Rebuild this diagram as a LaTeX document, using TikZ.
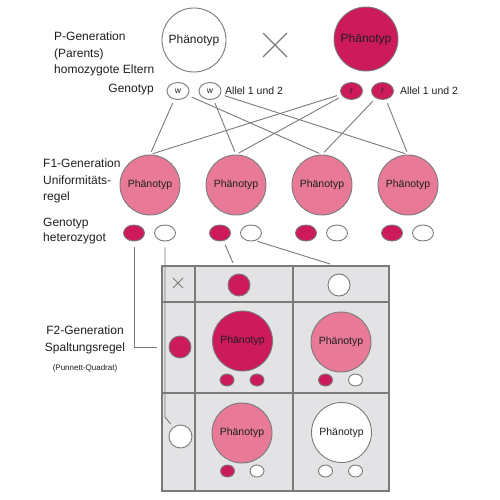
\documentclass[tikz,border=0pt]{standalone}
\usepackage{fontspec}
\setmainfont{Liberation Sans}
\usetikzlibrary{calc, shapes.geometric}

\definecolor{dunkelrot}{HTML}{CC1A5A}
\definecolor{rosa}{HTML}{E87A97}
\definecolor{zellgrau}{HTML}{E3E3E5}
\definecolor{linie}{HTML}{7A7A7A}
\definecolor{schrift}{HTML}{1E1E1E}

\tikzset{
  pheno/.style={circle, draw=linie, line width=0.9pt, minimum size=60pt,
    inner sep=0pt, text=schrift, font=\fontsize{10.5}{12}\selectfont},
  allel/.style={ellipse, draw=linie, line width=0.9pt, minimum width=21pt,
    minimum height=16pt, inner sep=0pt, text=schrift, font=\fontsize{8.5}{9}\selectfont},
  punkt/.style={circle, draw=linie, line width=0.9pt, minimum size=22pt, inner sep=0pt},
  klein/.style={ellipse, draw=linie, line width=0.9pt, minimum width=14pt,
    minimum height=12pt, inner sep=0pt},
  verb/.style={draw=linie, line width=0.9pt},
  beschr/.style={inner sep=0pt, text=schrift, font=\fontsize{12}{16.7}\selectfont}
}

\begin{document}
\begin{tikzpicture}[x=1pt, y=-1pt]
  \useasboundingbox (0,0) rectangle (500,500);

  % P-Generation: Eltern
  \node[pheno, minimum size=64pt, fill=white, font=\fontsize{12}{14}\selectfont] (pW) at (194,40) {Phänotyp};
  \node[pheno, minimum size=64pt, fill=dunkelrot, font=\fontsize{12}{14}\selectfont] (pR) at (366,39) {Phänotyp};
  % Kreuzungszeichen
  \draw[linie, line width=1.2pt] (263,33) -- (287,57) (263,57) -- (287,33);

  % Beschriftung links oben
  \node[beschr, anchor=west, align=left] (plbl) at (54,54) {P-Generation\\(Parents)\\homozygote Eltern};
  \node[beschr, anchor=east] (pgeno) at (154,90) {Genotyp};

  % Allele der Eltern
  \node[allel, minimum width=22pt, minimum height=17pt, fill=white] (w1) at (178,91) {w};
  \node[allel, minimum width=22pt, minimum height=17pt, fill=white] (w2) at (210,91) {w};
  \node[allel, minimum width=22pt, minimum height=17pt, fill=dunkelrot] (r1) at (351.5,91) {r};
  \node[allel, minimum width=22pt, minimum height=17pt, fill=dunkelrot] (r2) at (382.5,91) {r};
  \node[beschr, anchor=west, font=\fontsize{10.5}{12}\selectfont] (alw) at (225,91) {Allel 1 und 2};
  \node[beschr, anchor=west, font=\fontsize{10.5}{12}\selectfont] (alr) at (400,91) {Allel 1 und 2};

  % F1-Generation
  \node[beschr, anchor=west, align=left] (f1lbl) at (43,181) {F1-Generation\\Uniformitäts-\\regel};
  \node[beschr, anchor=west, align=left, font=\fontsize{12}{15.5}\selectfont] (f1geno) at (43,231) {Genotyp\\heterozygot};
  \foreach \name/\x in {a/150, b/236, c/322, d/408} {
    \node[pheno, fill=rosa] (f1\name) at (\x,185) {Phänotyp};
    \node[allel, fill=dunkelrot] (f1\name R) at (\x-16,233) {};
    \node[allel, fill=white] (f1\name W) at (\x+15,233) {};
  }

  % Kreuzungslinien P -> F1
  \draw[verb, shorten <=4pt, shorten >=3pt] (w1) -- (f1a.north);
  \draw[verb, shorten <=4pt, shorten >=3pt] (w1) -- (f1c.north);
  \draw[verb, shorten <=4pt, shorten >=3pt] (w2) -- (f1b.north);
  \draw[verb, shorten <=4pt, shorten >=3pt] (w2) -- (f1d.north);
  \draw[verb, shorten <=4pt, shorten >=3pt] (r1) -- (f1a.north);
  \draw[verb, shorten <=4pt, shorten >=3pt] (r1) -- (f1b.north);
  \draw[verb, shorten <=4pt, shorten >=3pt] (r2) -- (f1c.north);
  \draw[verb, shorten <=4pt, shorten >=3pt] (r2) -- (f1d.north);

  % F2-Generation: Punnett-Quadrat
  \node[beschr, align=center] (f2lbl) at (85,340) {F2-Generation\\Spaltungsregel};
  \node[beschr, font=\fontsize{8}{9}\selectfont] (f2sub) at (85,368) {(Punnett-Quadrat)};

  \fill[zellgrau] (162,266) rectangle (389,491);
  \draw[linie, line width=1.1pt] (162,266) rectangle (389,491)
    (195,266) -- (195,491) (293,266) -- (293,491)
    (162,302) -- (389,302) (162,393) -- (389,393);
  \draw[linie, line width=0.9pt] (173,278) -- (183,288) (173,288) -- (183,278);

  % Keimzellen am Rand
  \node[punkt, fill=dunkelrot] (qtR) at (239,285) {};
  \node[punkt, fill=white] (qtW) at (339,285) {};
  \node[punkt, fill=dunkelrot] (qlR) at (180,347) {};
  \node[punkt, fill=white, minimum size=23pt] (qlW) at (180.5,436.5) {};

  % Nachkommen
  \node[pheno, fill=dunkelrot] (rr) at (242.5,341) {Phänotyp};
  \node[klein, fill=dunkelrot] (rr1) at (227,380) {};
  \node[klein, fill=dunkelrot] (rr2) at (257,380) {};
  \node[pheno, fill=rosa] (rw) at (341,342) {Phänotyp};
  \node[klein, fill=dunkelrot] (rw1) at (325.5,380) {};
  \node[klein, fill=white] (rw2) at (355.5,380) {};
  \node[pheno, fill=rosa] (wr) at (242,433) {Phänotyp};
  \node[klein, fill=dunkelrot] (wr1) at (227.5,471) {};
  \node[klein, fill=white] (wr2) at (257,471) {};
  \node[pheno, fill=white] (ww) at (341.5,432.5) {Phänotyp};
  \node[klein, fill=white] (ww1) at (325.5,471) {};
  \node[klein, fill=white] (ww2) at (355.5,471) {};

  % Linien F1 -> Punnett-Quadrat
  \coordinate (k1) at (157,347);
  \coordinate (k2) at (233,263);
  \coordinate (k3) at (330,264);
  \draw[verb, shorten <=6pt] (f1aR) |- (k1);
  \draw[verb, shorten <=6pt, shorten >=4pt] (f1aW) -- ($(f1aW)+(0,184)$) -- (qlW);
  \draw[verb, shorten <=4pt] (f1bR) -- (k2);
  \draw[verb, shorten <=2pt] (f1bW.-60) -- (k3);
\end{tikzpicture}
\end{document}
